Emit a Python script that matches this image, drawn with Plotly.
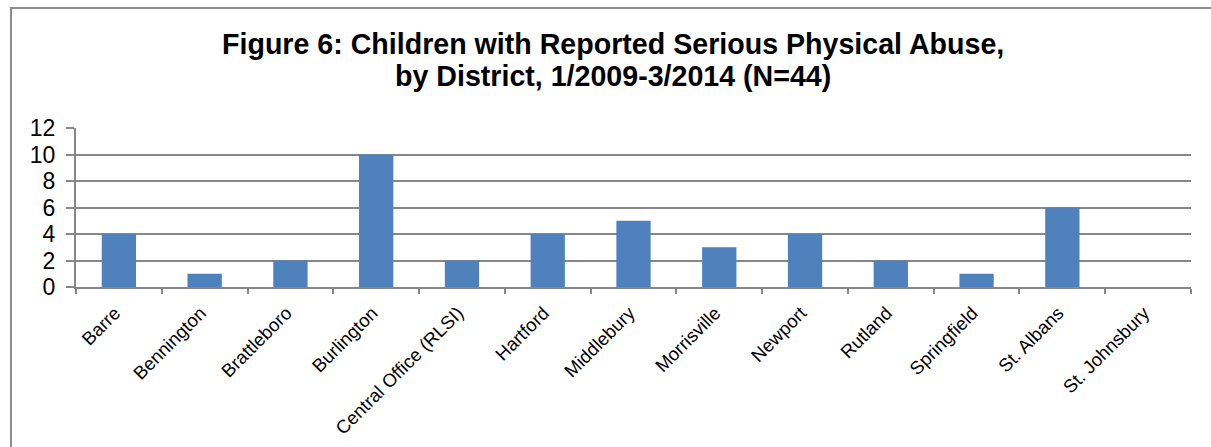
import plotly.graph_objects as go

districts = ["Barre", "Bennington", "Brattleboro", "Burlington", "Central Office (RLSI)",
             "Hartford", "Middlebury", "Morrisville", "Newport", "Rutland",
             "Springfield", "St. Albans", "St. Johnsbury"]
counts = [4, 1, 2, 10, 2, 4, 5, 3, 4, 2, 1, 6, 0]
y_ticks = [0, 2, 4, 6, 8, 10, 12]

title_lines = ["Figure 6: Children with Reported Serious Physical Abuse,",
               "by District, 1/2009-3/2014 (N=44)"]

W, H = 1211, 447
L, R, T, B = 76, 20, 128, 160
pw, ph = W - L - R, H - T - B

def px(x):
    return (x - L) / pw

def py(y):
    return (H - B - y) / ph

fig = go.Figure(go.Bar(x=districts, y=counts, marker=dict(color="#4F81BD", line=dict(width=0))))

annotations = []
for line, ypix in zip(title_lines, [44, 76]):
    annotations.append(dict(text="<b>" + line + "</b>", xref="paper", yref="paper",
                            x=px(613), y=py(ypix), xanchor="center", yanchor="middle",
                            showarrow=False, font=dict(size=28.6, color="black")))

fig.update_layout(
    width=W, height=H,
    margin=dict(l=L, r=R, t=T, b=B, autoexpand=False),
    paper_bgcolor="white", plot_bgcolor="white",
    font=dict(family="Liberation Sans, Arial, sans-serif", color="black"),
    bargap=0.6,
    showlegend=False,
    annotations=annotations,
    xaxis=dict(tickangle=-45, tickfont=dict(size=18.5), showline=True, linecolor="#878787",
               linewidth=2, ticks="outside", tickson="boundaries", ticklen=5,
               tickcolor="#878787", tickwidth=2, showgrid=False, automargin=False,
               ticklabelstandoff=6, ticklabelshift=-4),
    yaxis=dict(range=[0, 12], tickvals=y_ticks, tickfont=dict(size=23), showline=True,
               linecolor="#878787", linewidth=2, ticks="outside", ticklen=8,
               tickcolor="#878787", tickwidth=2, showgrid=True, gridcolor="#878787",
               gridwidth=2, zeroline=False, ticklabelstandoff=6, automargin=False),
    shapes=[dict(type="rect", xref="paper", yref="paper",
                 x0=px(11), x1=px(1230), y0=py(470), y1=py(8),
                 line=dict(color="#8c8c8c", width=2), fillcolor="rgba(0,0,0,0)", layer="above")],
)

fig.write_html("out.html")
